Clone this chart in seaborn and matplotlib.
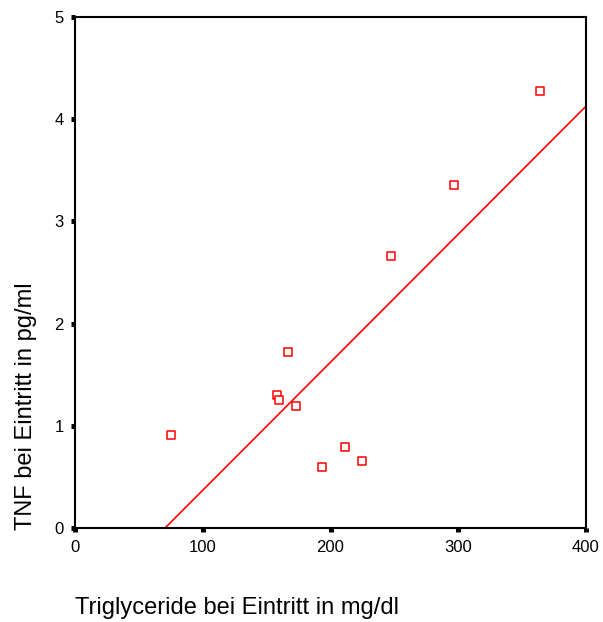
import numpy as np
import pandas as pd
import matplotlib
matplotlib.use("Agg")
import matplotlib.pyplot as plt
import seaborn as sns

# values
triglyceride = [75, 158, 160, 167, 173, 193, 211, 225, 247, 297, 364]
tnf = [0.91, 1.30, 1.25, 1.72, 1.19, 0.60, 0.79, 0.66, 2.66, 3.36, 4.28]
x_ticks = [0, 100, 200, 300, 400]
y_ticks = [0, 1, 2, 3, 4, 5]

df = pd.DataFrame({"trig": triglyceride, "tnf": tnf})

sns.set_style("white", {"text.color": "black", "axes.labelcolor": "black",
                        "xtick.color": "black", "ytick.color": "black",
                        "xtick.bottom": True, "ytick.left": True})
plt.rcParams["font.family"] = ["Liberation Sans", "DejaVu Sans"]

fig = plt.figure(figsize=(6.03, 6.22), dpi=100)
ax = fig.add_axes([75 / 603, 1 - 528 / 622, 511 / 603, 511 / 622])
ax.set_xlim(0, 400)
ax.set_ylim(0, 5)

sns.regplot(data=df, x="trig", y="tnf", ax=ax, ci=None, truncate=False,
            marker="s",
            scatter_kws=dict(s=26, facecolors="white", edgecolors="#ff0000",
                             linewidths=1.1, alpha=1, zorder=3),
            line_kws=dict(color="#ff0000", lw=1.2))

ax.set_xlim(0, 400)
ax.set_ylim(0, 5)
ax.set_xticks(x_ticks)
ax.set_yticks(y_ticks)
ax.tick_params(direction="out", length=3, width=3.6, color="black",
               labelsize=12)
ax.tick_params(axis="x", pad=6)
ax.tick_params(axis="y", pad=5)

for sp in ax.spines.values():
    sp.set_color("black")
    sp.set_linewidth(1.5)

ax.set_xlabel("Triglyceride bei Eintritt in mg/dl", fontsize=17, loc="left")
ax.xaxis.set_label_coords(0.0, -0.135)
ax.set_ylabel("TNF bei Eintritt in pg/ml", fontsize=17, loc="bottom")
ax.yaxis.set_label_coords(-0.074, -0.004)

fig.savefig("out.png", dpi=100)
